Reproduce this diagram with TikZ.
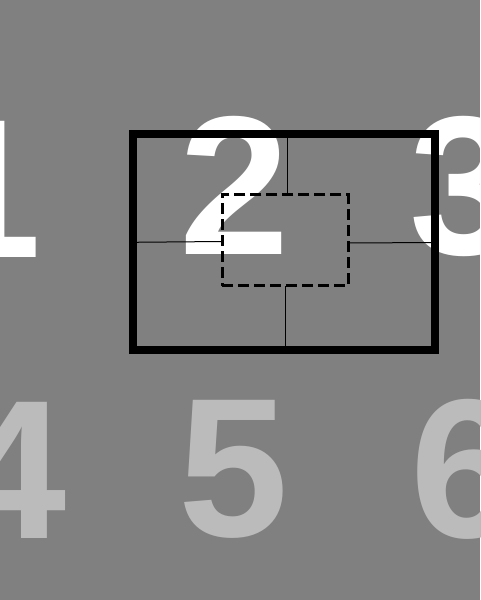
\documentclass[tikz,border=0pt]{standalone}
\usepackage{fontspec}
\setmainfont{Liberation Sans}
\definecolor{bggray}{HTML}{808080}
\definecolor{lightdigit}{HTML}{BBBBBB}
\begin{document}
\begin{tikzpicture}[x=1pt,y=-1pt,
  digit/.style={anchor=base,inner sep=0pt,font=\fontsize{198}{198}\selectfont\bfseries},
  topdigit/.style={digit,text=white},
  botdigit/.style={digit,text=lightdigit},
  frame/.style={draw=black,line width=8pt,inner sep=0pt,minimum width=302.5pt,minimum height=216pt},
  zone/.style={draw=black,line width=3pt,dash pattern=on 11pt off 5pt,inner sep=0pt,minimum width=126pt,minimum height=91.3pt},
  guide/.style={draw=black,line width=1pt}]
\fill[bggray] (0,0) rectangle (480,600);
\useasboundingbox (0,0) rectangle (480,600);
\node[topdigit] (d1) at (-13,257) {1};
\node[topdigit] (d2) at (234.5,254) {2};
\node[topdigit] (d3) at (465,254) {3};
\node[botdigit] (d4) at (12,538) {4};
\node[botdigit] (d5) at (233.5,536) {5};
\node[botdigit] (d6) at (466,537) {6};
\node[frame] (outer) at (283.75,242) {};
\node[zone] (inner) at (285,240.3) {};
\coordinate (tA) at (287.3,134);
\coordinate (tB) at (287.3,194.7);
\coordinate (lA) at (132.5,242.3);
\coordinate (lB) at (222,241.5);
\coordinate (rA) at (348,243);
\coordinate (rB) at (435,242.5);
\coordinate (bA) at (285.7,286);
\coordinate (bB) at (285.7,350);
\draw[guide] (tA) -- (tB);
\draw[guide] (lA) -- (lB);
\draw[guide] (rA) -- (rB);
\draw[guide] (bA) -- (bB);
\end{tikzpicture}
\end{document}
